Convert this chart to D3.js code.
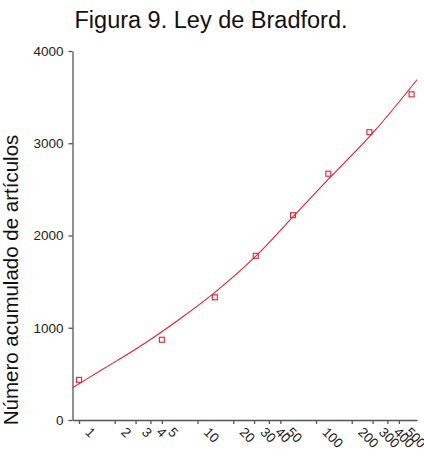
<!DOCTYPE html>
<html>
<head>
<meta charset="utf-8">
<script src="https://cdn.jsdelivr.net/npm/d3@7"></script>
<style>
  body { margin: 0; background: #fff; }
  text { font-family: "Liberation Sans", Arial, sans-serif; }
</style>
</head>
<body>
<svg width="424" height="460"></svg>
<script>
// observed points (journals rank, cumulative articles)
const pointX = [1, 5, 14, 31, 64, 127, 282, 640];
const pointY = [435, 870, 1330, 1780, 2220, 2670, 3120, 3530];

// fitted Bradford curve
const curveX = [0.881, 1.585, 3.16, 7.08, 13.6, 31.3, 63.5, 127, 315, 711];
const curveY = [350, 550, 785, 1095, 1370, 1781, 2200, 2610, 3140, 3689];

const xTicks = [1, 2, 3, 4, 5, 10, 20, 30, 40, 50, 100, 200, 300, 400, 500];
const yTicks = [0, 1000, 2000, 3000, 4000];

const svg = d3.select('svg');
const axisColor = '#555';

const xScale = d3.scaleLog()
  .domain([0.881, 711])
  .range([72.5, 417]);

const yScale = d3.scaleLinear()
  .domain([0, 4000])
  .range([420, 51]);

svg.append('text')
  .attr('x', 211)
  .attr('y', 28)
  .attr('text-anchor', 'middle')
  .style('font-size', '23.5px')
  .attr('fill', '#111')
  .text('Figura 9. Ley de Bradford.');

svg.append('text')
  .attr('transform', 'translate(18, 280) rotate(-90)')
  .attr('text-anchor', 'middle')
  .style('font-size', '20.5px')
  .attr('fill', '#111')
  .text('Número acumulado de artículos');

// y axis
const yAxis = svg.append('g')
  .attr('transform', 'translate(72.5, 0)')
  .call(d3.axisLeft(yScale).tickValues(yTicks).tickFormat(d3.format('d')).tickSize(4).tickSizeOuter(0).tickPadding(5));
yAxis.select('.domain').attr('stroke', axisColor).attr('stroke-width', 1.3);
yAxis.selectAll('.tick line').attr('stroke', axisColor).attr('stroke-width', 1.3);
yAxis.selectAll('.tick text').style('font-size', '13.5px').attr('fill', '#222');

// x axis
const xAxis = svg.append('g')
  .attr('transform', 'translate(0, 420)')
  .call(d3.axisBottom(xScale).tickValues(xTicks).tickFormat(d3.format('d')).tickSize(4).tickSizeOuter(0));
xAxis.select('.domain').attr('stroke', axisColor).attr('stroke-width', 1.3);
xAxis.selectAll('.tick line').attr('stroke', axisColor).attr('stroke-width', 1.3);
xAxis.selectAll('.tick text')
  .attr('y', 0)
  .attr('dy', 0)
  .attr('transform', 'translate(5, 13) rotate(45)')
  .attr('text-anchor', 'start')
  .style('font-size', '13.5px')
  .attr('fill', '#222');

// curve
const line = d3.line()
  .x(i => xScale(curveX[i]))
  .y(i => yScale(curveY[i]))
  .curve(d3.curveMonotoneX);

svg.append('path')
  .attr('d', line(d3.range(curveX.length)))
  .attr('fill', 'none')
  .attr('stroke', '#e8202a')
  .attr('stroke-width', 1.1);

// markers
svg.selectAll('rect.pt')
  .data(d3.range(pointX.length))
  .enter().append('rect')
  .attr('class', 'pt')
  .attr('x', i => xScale(pointX[i]) - 2.5)
  .attr('y', i => yScale(pointY[i]) - 2.5)
  .attr('width', 5)
  .attr('height', 5)
  .attr('fill', 'none')
  .attr('stroke', '#e8202a')
  .attr('stroke-width', 1.1);
</script>
</body>
</html>
